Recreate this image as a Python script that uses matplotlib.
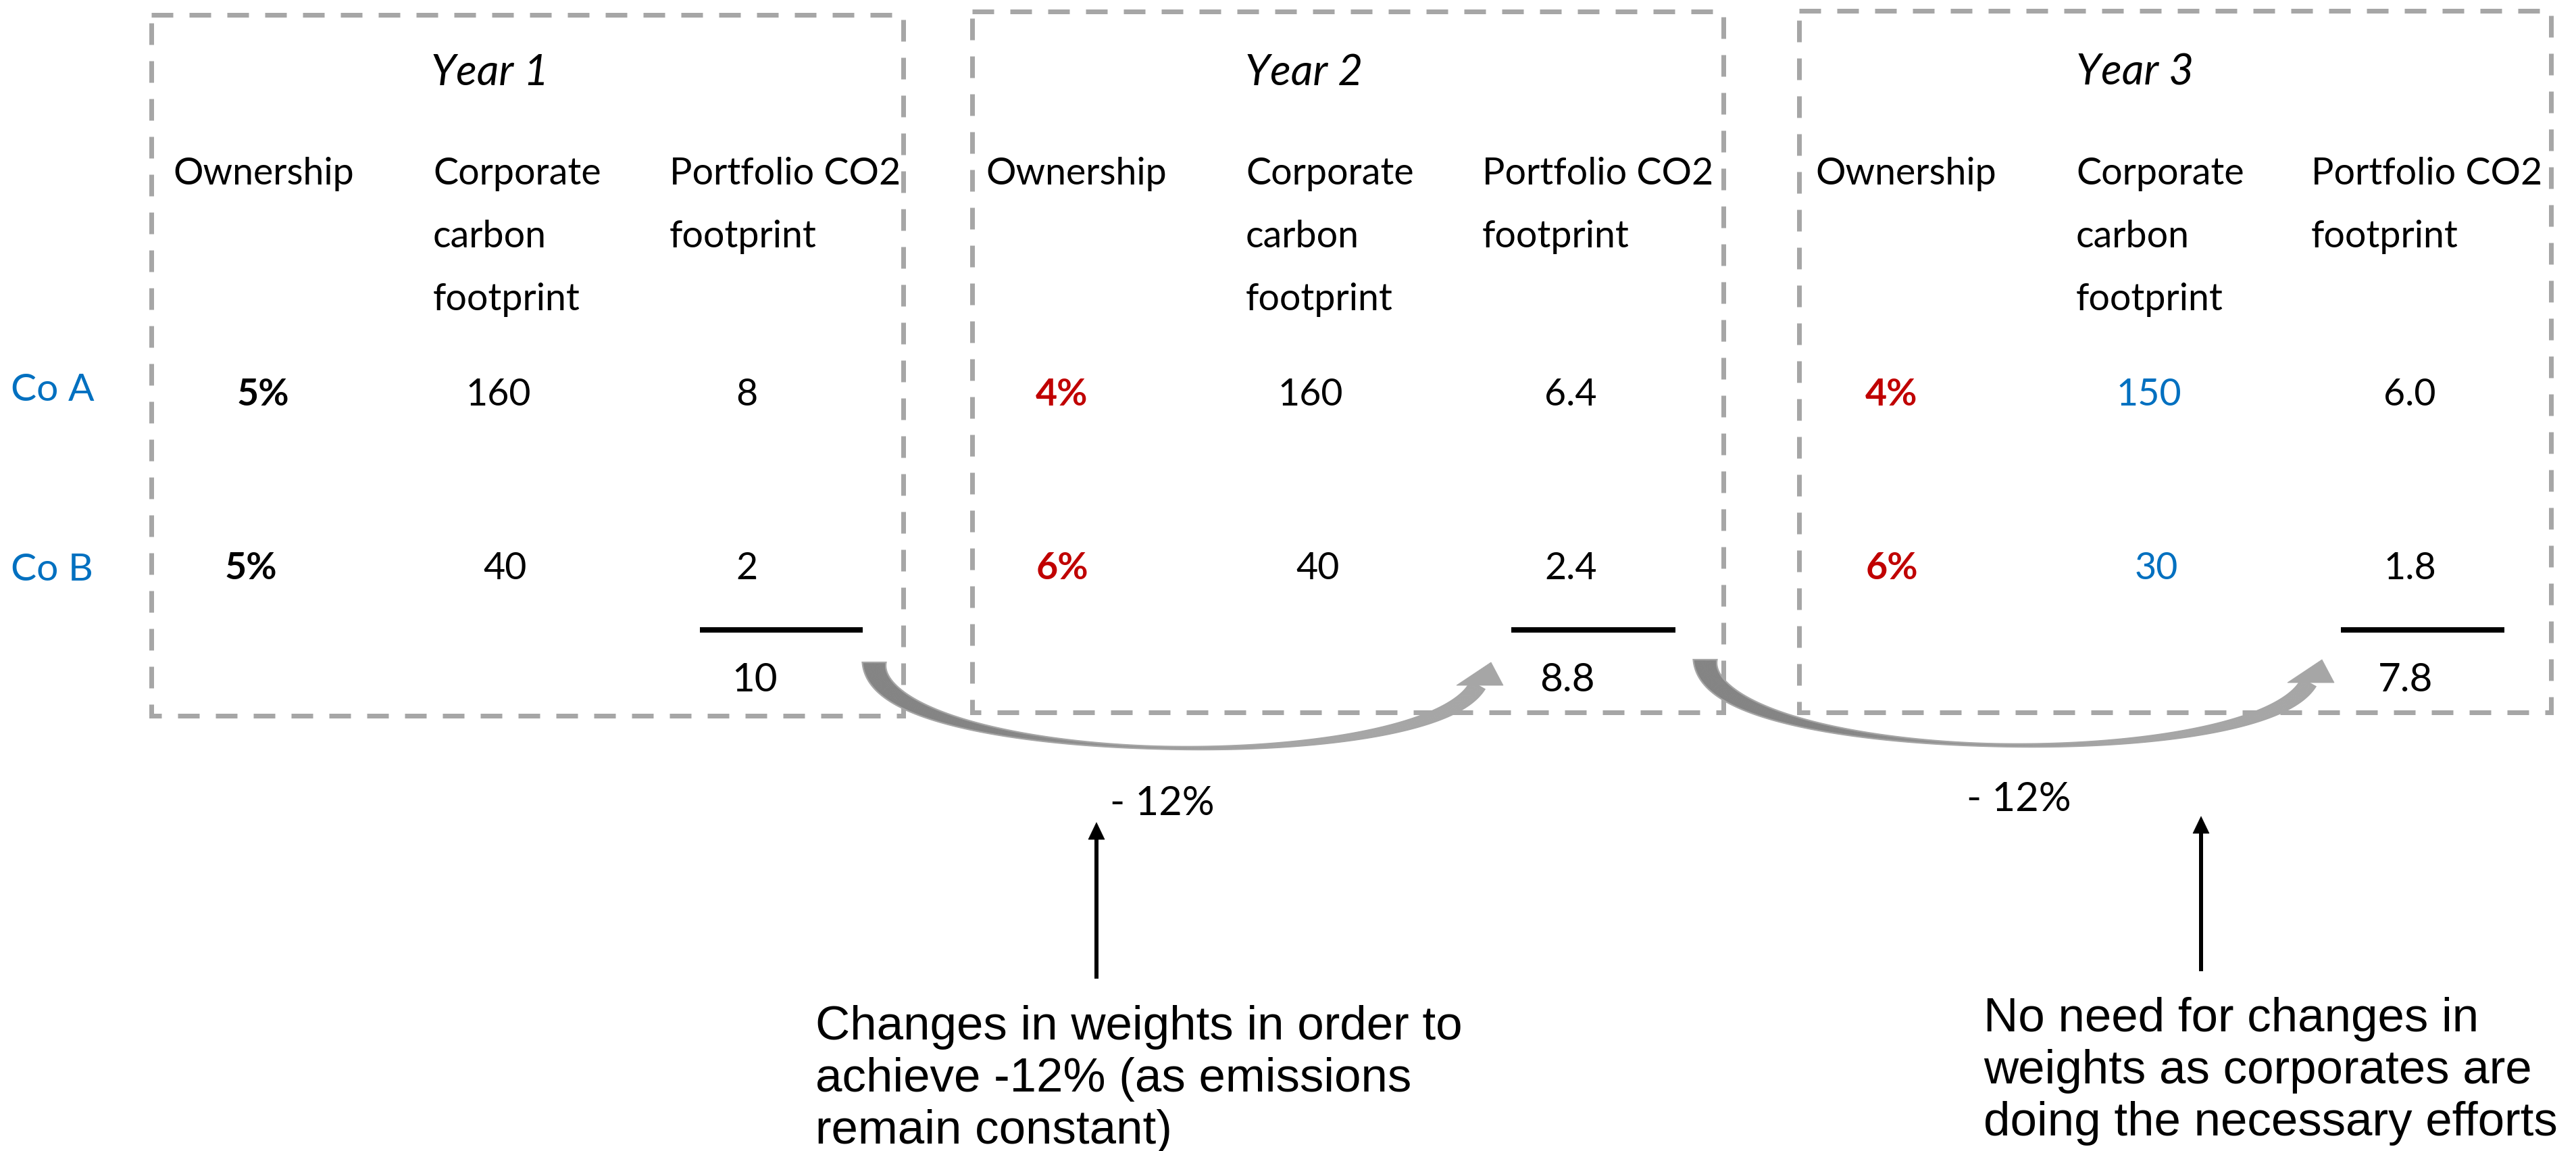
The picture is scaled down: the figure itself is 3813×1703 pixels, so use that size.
import matplotlib
matplotlib.use("Agg")
import matplotlib.pyplot as plt
import numpy as np
from matplotlib.patches import Rectangle, Polygon
from matplotlib.collections import PolyCollection
from matplotlib.colors import to_rgb

plt.rcParams['lines.scale_dashes'] = False

# ---------------- data ----------------
years = ["Year 1", "Year 2", "Year 3"]
companies = ["Co A", "Co B"]
column_headers = [["Ownership"],
                  ["Corporate", "carbon", "footprint"],
                  ["Portfolio CO2", "footprint"]]
ownership_pct = [[5, 5], [4, 6], [4, 6]]
corporate_footprint = [[160, 40], [160, 40], [150, 30]]
portfolio_footprint = [[8, 2], [6.4, 2.4], [6.0, 1.8]]
portfolio_total = [10, 8.8, 7.8]
change_labels = ["- 12%", "- 12%"]
notes = [["Changes in weights in order to",
          "achieve -12% (as emissions",
          "remain constant)"],
         ["No need for changes in",
          "weights as corporates are",
          "doing the necessary efforts"]]
number_formats = ["{:g}", "{:.1f}", "{:.1f}"]

# ---------------- layout (pixel space) ----------------
W, H = 3813, 1703
BOXES = [(224, 22, 1337, 1059), (1439, 17, 2551, 1054), (2663, 16, 3776, 1054)]
TITLE_X = [725, 1930, 3160]
TITLE_BASE = 126
HEADER_X = [[256, 641, 991], [1459, 1844, 2194], [2687, 3073, 3421]]
HEADER_BASE = [273, 366, 459]
VALUE_X = [[(389, 371), (738, 748), (1105, 1105)],
           [(1572, 1572), (1940, 1951), (2325, 2325)],
           [(2800, 2800), (3181, 3192), (3567, 3567)]]
ROW_BASE = [600, 857]
RULE_X = [(1036, 1277), (2237, 2480), (3465, 3707)]
RULE_Y = 932
TOTAL_X = [1117, 2320, 3561]
TOTAL_BASE = 1023
COMPANY_X = 16
COMPANY_BASE = [593, 859]

CURVE_OFFSETS = [(0, 0), (1230, -4)]
CHANGE_X = [1720, 2988]
CHANGE_BASE = [1206, 1200]
POINTER_X = [1623, 3258]
POINTER_BOTTOM = [1448, 1437]
POINTER_TIP = [1217, 1208]
NOTE_X = [1207, 2936]
NOTE_BASE = [1538, 1526]
NOTE_STEP = 77

BLUE = "#0070C0"
RED = "#C00000"
GRAY = "#A6A6A6"
DARK_GRAY = "#848484"
SANS = "Lato"
ARIAL = "Liberation Sans"


def pt(px):
    return px * 0.72


fig = plt.figure(figsize=(W / 100, H / 100), dpi=100)
ax = fig.add_axes([0, 0, 1, 1])
ax.set_xlim(0, W)
ax.set_ylim(H, 0)
ax.axis("off")

# dashed frames
for (x0, y0, x1, y1) in BOXES:
    ax.add_patch(Rectangle((x0, y0), x1 - x0, y1 - y0, fill=False,
                           edgecolor=GRAY, linewidth=pt(7),
                           linestyle=(0, (pt(32), pt(24))), zorder=1))

# company labels
for name, yb in zip(companies, COMPANY_BASE):
    ax.text(COMPANY_X, yb, name, color=BLUE, fontsize=41, family=SANS,
            ha="left", va="baseline")

for k, year in enumerate(years):
    ax.text(TITLE_X[k], TITLE_BASE, year, fontsize=46, family=SANS,
            style="italic", ha="center", va="baseline")
    for c, lines in enumerate(column_headers):
        for j, line in enumerate(lines):
            ax.text(HEADER_X[k][c], HEADER_BASE[j], line, fontsize=40,
                    family=SANS, ha="left", va="baseline")
    for r in range(len(companies)):
        # weights that moved away from the starting year are shown in red,
        # emissions that moved away from the starting year in blue
        own = ownership_pct[k][r]
        own_col = "black" if own == ownership_pct[0][r] else RED
        ax.text(VALUE_X[k][0][r], ROW_BASE[r], f"{own}%", color=own_col,
                fontsize=40, family=SANS, weight="bold",
                ha="center", va="baseline")
        cf = corporate_footprint[k][r]
        cf_col = "black" if cf == corporate_footprint[0][r] else BLUE
        ax.text(VALUE_X[k][1][r], ROW_BASE[r], f"{cf}", color=cf_col,
                fontsize=40, family=SANS, ha="center", va="baseline")
        ax.text(VALUE_X[k][2][r], ROW_BASE[r],
                number_formats[k].format(portfolio_footprint[k][r]),
                fontsize=40, family=SANS, ha="center", va="baseline")
    ax.plot(RULE_X[k], [RULE_Y, RULE_Y], color="black", linewidth=pt(8),
            solid_capstyle="butt", zorder=2)
    ax.text(TOTAL_X[k], TOTAL_BASE, number_formats[k].format(portfolio_total[k]),
            fontsize=42, family=SANS, ha="center", va="baseline")


# curved gradient arrows between yearly totals
def curved_arrow(dx, dy):
    P = np.array([[1294, 980], [1294, 1135], [2111, 1150], [2187, 1014]], float)
    P += [dx, dy]
    t = np.linspace(0, 1, 240)[:, None]
    pts = ((1 - t) ** 3 * P[0] + 3 * (1 - t) ** 2 * t * P[1]
           + 3 * (1 - t) * t ** 2 * P[2] + t ** 3 * P[3])
    der = (3 * (1 - t) ** 2 * (P[1] - P[0]) + 6 * (1 - t) * t * (P[2] - P[1])
           + 3 * t ** 2 * (P[3] - P[2]))
    der /= np.linalg.norm(der, axis=1, keepdims=True)
    nrm = np.column_stack([-der[:, 1], der[:, 0]])
    tt = t[:, 0]
    w = np.where(tt < 0.5, 4 + 31 * ((0.5 - tt) / 0.5) ** 1.7,
                 4 + 20 * ((tt - 0.5) / 0.5) ** 1.6)
    left = pts + nrm * (w[:, None] / 2)
    right = pts - nrm * (w[:, None] / 2)
    c0 = np.array(to_rgb(DARK_GRAY))
    c1 = np.array(to_rgb(GRAY))
    polys, cols = [], []
    for i in range(len(tt) - 1):
        polys.append([left[i], left[i + 1], right[i + 1], right[i]])
        f = np.clip((tt[i] - 0.3) / 0.35, 0, 1)
        cols.append(c0 * (1 - f) + c1 * f)
    pc = PolyCollection(polys, facecolors=cols, edgecolors=cols,
                        linewidths=0.6, zorder=3)
    ax.add_collection(pc)
    outline = np.vstack([left, right[::-1]])
    ax.add_patch(Polygon(outline, closed=True, facecolor="none",
                         edgecolor=GRAY, linewidth=1.6, zorder=3))
    ex, ey = P[3]
    head = [[ex - 31, ey], [ex + 38, ey], [ex + 20, ey - 34]]
    ax.add_patch(Polygon(head, closed=True, facecolor=GRAY,
                         edgecolor=GRAY, linewidth=0.6, zorder=3))


for (dx, dy) in CURVE_OFFSETS:
    curved_arrow(dx, dy)

# change labels, pointer arrows and notes
for i, lab in enumerate(change_labels):
    ax.text(CHANGE_X[i], CHANGE_BASE[i], lab, fontsize=43, family=SANS,
            ha="center", va="baseline")
    x = POINTER_X[i]
    ax.plot([x, x], [POINTER_BOTTOM[i], POINTER_TIP[i] + 24], color="black",
            linewidth=pt(6), solid_capstyle="butt", zorder=2)
    ax.add_patch(Polygon([[x - 12, POINTER_TIP[i] + 25], [x + 12, POINTER_TIP[i] + 25],
                          [x, POINTER_TIP[i]]], closed=True,
                         facecolor="black", edgecolor="black", linewidth=0.5))
    for j, line in enumerate(notes[i]):
        ax.text(NOTE_X[i], NOTE_BASE[i] + j * NOTE_STEP, line, fontsize=51,
                family=ARIAL, ha="left", va="baseline")

fig.savefig("out.png", dpi=100)
